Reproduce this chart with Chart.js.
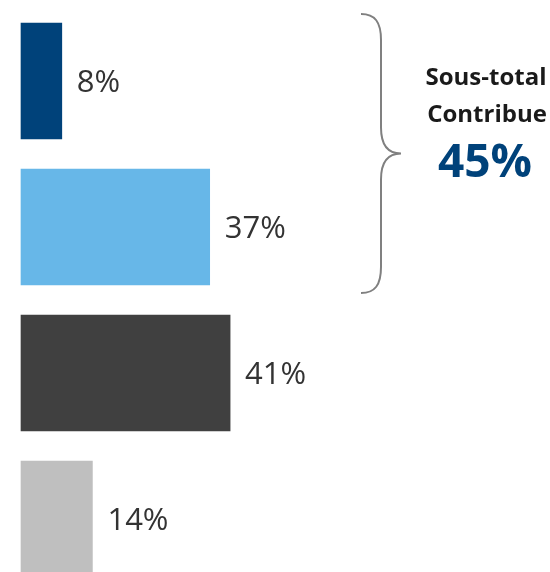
<!DOCTYPE html>
<html>
<head>
<meta charset="utf-8">
<script src="https://cdn.jsdelivr.net/npm/chart.js@4/dist/chart.umd.min.js"></script>
<style>
  html, body { margin: 0; padding: 0; background: #fff; overflow: hidden; }
  #chart { display: block; }
</style>
</head>
<body>
<canvas id="chart" width="550" height="572"></canvas>
<script>
const categories = ["Catégorie 1", "Catégorie 2", "Catégorie 3", "Catégorie 4"];
const values = [8, 37, 41, 14];
const barColors = ["#00427A", "#67B7E8", "#404040", "#BFBFBF"];
const subtotalLines = ["Sous-total", "Contribue"];
const subtotalValue = "45%";

// value labels right of each bar
const valueLabels = {
  id: "valueLabels",
  afterDatasetsDraw(chart) {
    const ctx = chart.ctx;
    const meta = chart.getDatasetMeta(0);
    ctx.save();
    ctx.font = "31px 'Open Sans'";
    ctx.fillStyle = "#333333";
    ctx.textAlign = "left";
    ctx.textBaseline = "middle";
    meta.data.forEach((bar, i) => {
      ctx.fillText(values[i] + "%", bar.x + 15, bar.y + 2);
    });
    ctx.restore();
  }
};

// brace around the first two bars + subtotal text
const subtotal = {
  id: "subtotal",
  afterDraw(chart) {
    const ctx = chart.ctx;
    const meta = chart.getDatasetMeta(0);
    const top = meta.data[0].y - 67;
    const bottom = meta.data[1].y + 66;
    const mid = (top + bottom) / 2;
    ctx.save();
    ctx.strokeStyle = "#808080";
    ctx.lineWidth = 2;
    ctx.beginPath();
    ctx.moveTo(361, top);
    ctx.bezierCurveTo(375, top, 381, top + 8, 381, top + 26);
    ctx.lineTo(381, mid - 26);
    ctx.bezierCurveTo(381, mid - 8, 388, mid, 401, mid);
    ctx.bezierCurveTo(388, mid, 381, mid + 8, 381, mid + 26);
    ctx.lineTo(381, bottom - 26);
    ctx.bezierCurveTo(381, bottom - 8, 375, bottom, 361, bottom);
    ctx.stroke();

    ctx.textAlign = "center";
    ctx.textBaseline = "alphabetic";
    ctx.fillStyle = "#1a1a1a";
    ctx.font = "bold 24px 'Open Sans'";
    ctx.fillText(subtotalLines[0], 486, 85);
    ctx.fillText(subtotalLines[1], 487, 122);
    ctx.fillStyle = "#00427A";
    ctx.font = "bold 46px 'Open Sans'";
    ctx.fillText(subtotalValue, 485, 177);
    ctx.restore();
  }
};

new Chart(document.getElementById("chart"), {
  type: "bar",
  data: {
    labels: categories,
    datasets: [{
      data: values,
      backgroundColor: barColors,
      barThickness: 116,
      clip: false
    }]
  },
  options: {
    indexAxis: "y",
    responsive: false,
    animation: false,
    layout: { padding: { left: 21, right: 19, top: 81, bottom: 53 } },
    scales: {
      x: { display: false, min: 0, max: 100 },
      y: { display: false, offset: false }
    },
    plugins: {
      legend: { display: false },
      tooltip: { enabled: false }
    }
  },
  plugins: [valueLabels, subtotal]
});
</script>
</body>
</html>
